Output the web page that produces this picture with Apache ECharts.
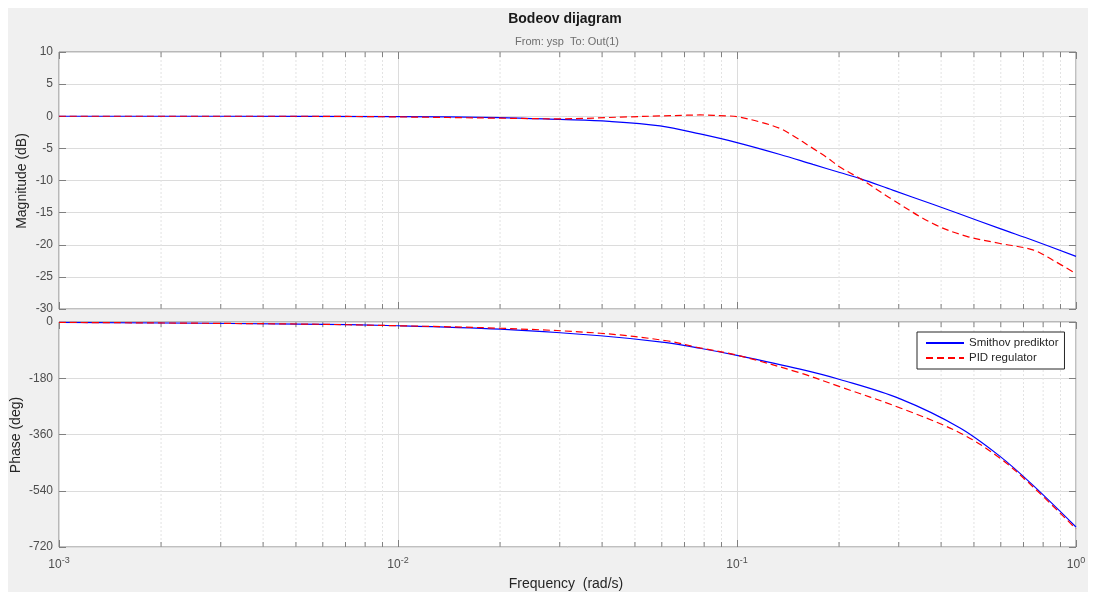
<!DOCTYPE html>
<html>
<head>
<meta charset="utf-8">
<script src="https://cdn.jsdelivr.net/npm/echarts@6/dist/echarts.min.js"></script>
<style>
html,body{margin:0;padding:0;background:#fff;}
#chart{width:1095px;height:592px;}
</style>
</head>
<body>
<div id="chart"></div>
<script>
// ---- data ----
const seriesNames = ['Smithov prediktor', 'PID regulator'];
const magTicks = [-30, -25, -20, -15, -10, -5, 0, 5, 10];
const phaseTicks = [-720, -540, -360, -180, 0];
const freqTicks = [0.001, 0.01, 0.1, 1];

const smithMagFreq = [0.001, 0.003, 0.01, 0.02, 0.0301, 0.042, 0.0593, 0.0778, 0.1, 0.134, 0.1675, 0.201, 0.2307, 0.288, 0.378, 0.448, 0.597, 0.746, 1.0];
const smithMag     = [0, 0, -0.05, -0.2, -0.5, -0.8, -1.5, -2.75, -4.1, -5.95, -7.5, -8.75, -9.7, -11.5, -13.7, -15.1, -17.5, -19.3, -21.8];

const pidMagFreq = [0.001, 0.005, 0.01, 0.02, 0.0301, 0.0474, 0.0593, 0.0712, 0.0778, 0.0933, 0.1, 0.117, 0.134, 0.146, 0.1675, 0.184, 0.201, 0.2307, 0.288, 0.378, 0.476, 0.597, 0.746, 0.855, 1.0];
const pidMag     = [0, 0, -0.1, -0.3, -0.4, -0.1, 0.05, 0.16, 0.2, 0.05, -0.05, -0.9, -1.9, -3.0, -5.0, -6.4, -7.9, -9.7, -13.0, -16.7, -18.7, -19.8, -20.8, -22.4, -24.5];

const smithPhaseFreq = [0.001, 0.00514, 0.01, 0.02, 0.0395, 0.0619, 0.0778, 0.1, 0.1535, 0.201, 0.303, 0.455, 0.597, 0.746, 1.0];
const smithPhase     = [-1.2, -6.5, -12, -23, -44, -66, -84, -107, -151, -184, -246, -339, -430, -522, -656];

const pidPhaseFreq = [0.001, 0.00514, 0.01, 0.02, 0.0395, 0.0619, 0.0778, 0.1, 0.1535, 0.201, 0.303, 0.455, 0.597, 0.746, 1.0];
const pidPhase     = [-1.2, -6.5, -12, -20, -36, -60, -83, -106, -163, -207, -275, -355, -436, -527, -662];

const minorFreqs = [];
[0.001, 0.01, 0.1].forEach(d => { for (let k = 2; k <= 9; k++) minorFreqs.push(+(d * k).toPrecision(3)); });

// ---- helpers ----
const pair = (xs, ys) => xs.map((x, i) => [x, ys[i]]);
const FONT = 'Liberation Sans, Arial, Helvetica, sans-serif';
const AXIS_COLOR = '#808080';
const LABEL_COLOR = '#4d4d4d';

const chart = echarts.init(document.getElementById('chart'), null, {renderer: 'canvas'});

function logLabel(v) {
  const e = Math.round(Math.log10(v));
  return '10{sup|' + e + '}';
}

const grids = [
  {left: 59, top: 52, width: 1017, height: 257},
  {left: 59, top: 322, width: 1017, height: 225}
];

function xAxisDef(gi, pos, showLabel) {
  return {
    type: 'log', logBase: 10, gridIndex: gi, position: pos,
    min: 0.001, max: 1,
    axisLine: {show: false, onZero: false},
    axisTick: {show: true, inside: true, length: 7, lineStyle: {color: AXIS_COLOR}},
    splitLine: {show: pos === 'bottom', lineStyle: {color: '#dcdcdc', width: 1}},
    minorTick: {show: false},
    axisLabel: showLabel ? {
      show: true, formatter: logLabel, margin: 9, color: LABEL_COLOR, fontFamily: FONT, fontSize: 12,
      rich: {sup: {fontSize: 9, color: LABEL_COLOR, fontFamily: FONT, padding: [0, 0, 9, 0]}}
    } : {show: false}
  };
}

function yAxisDef(gi, pos, min, max, interval, showLabel) {
  return {
    type: 'value', gridIndex: gi, position: pos, min: min, max: max, interval: interval,
    axisLine: {show: false, onZero: false},
    axisTick: {show: true, inside: true, length: 7, lineStyle: {color: AXIS_COLOR}},
    splitLine: {show: pos === 'left', lineStyle: {color: '#dcdcdc', width: 1}},
    axisLabel: showLabel ? {show: true, color: LABEL_COLOR, fontFamily: FONT, fontSize: 12, margin: 6} : {show: false}
  };
}

const minorSeries = (gi) => ({
  type: 'custom', xAxisIndex: gi * 2, yAxisIndex: gi * 2, silent: true, z: 1,
  data: minorFreqs.map(f => [f, 0]),
  renderItem: function (params, api) {
    const cs = params.coordSys;
    const x = api.coord([api.value(0), 0])[0];
    const top = cs.y, bot = cs.y + cs.height;
    return {
      type: 'group',
      children: [
        {type: 'line', shape: {x1: x, y1: top, x2: x, y2: bot},
         style: {stroke: '#e3e3e3', lineWidth: 1, lineDash: [2, 2]}},
        {type: 'line', shape: {x1: x, y1: bot, x2: x, y2: bot - 5},
         style: {stroke: AXIS_COLOR, lineWidth: 1}},
        {type: 'line', shape: {x1: x, y1: top, x2: x, y2: top + 5},
         style: {stroke: AXIS_COLOR, lineWidth: 1}}
      ]
    };
  }
});

const lineSeries = (name, data, gi, color, dashed) => ({
  name: name, type: 'line', xAxisIndex: gi * 2, yAxisIndex: gi * 2,
  data: data, showSymbol: false, symbol: 'none', smooth: 0.35, z: 5,
  lineStyle: {color: color, width: 1.2, type: dashed ? [7, 4] : 'solid'},
  itemStyle: {color: color}
});

const option = {
  backgroundColor: '#ffffff',
  animation: false,
  graphic: [
    {type: 'rect', shape: {x: 8, y: 8, width: 1080, height: 584}, style: {fill: '#f0f0f0'}, z: -10, silent: true},
    {type: 'text', x: 565, y: 19, style: {text: 'Bodeov dijagram', font: 'bold 14px ' + FONT, fill: '#1a1a1a', align: 'center', verticalAlign: 'middle'}},
    {type: 'text', x: 567, y: 42, style: {text: 'From: ysp  To: Out(1)', font: '11px ' + FONT, fill: '#6e6e6e', align: 'center', verticalAlign: 'middle'}},
    {type: 'text', x: 22, y: 181, rotation: Math.PI / 2, style: {text: 'Magnitude (dB)', font: '14px ' + FONT, fill: '#262626', align: 'center', verticalAlign: 'middle'}},
    {type: 'text', x: 16, y: 435, rotation: Math.PI / 2, style: {text: 'Phase (deg)', font: '14px ' + FONT, fill: '#262626', align: 'center', verticalAlign: 'middle'}},
    {type: 'text', x: 566, y: 584, style: {text: 'Frequency  (rad/s)', font: '14px ' + FONT, fill: '#262626', align: 'center', verticalAlign: 'middle'}}
  ],
  grid: grids.map(g => Object.assign({show: true, backgroundColor: '#ffffff', borderColor: AXIS_COLOR, borderWidth: 1}, g)),
  xAxis: [
    xAxisDef(0, 'bottom', false), xAxisDef(0, 'top', false),
    xAxisDef(1, 'bottom', true), xAxisDef(1, 'top', false)
  ],
  yAxis: [
    yAxisDef(0, 'left', magTicks[0], magTicks[magTicks.length - 1], 5, true),
    yAxisDef(0, 'right', magTicks[0], magTicks[magTicks.length - 1], 5, false),
    yAxisDef(1, 'left', phaseTicks[0], phaseTicks[phaseTicks.length - 1], 180, true),
    yAxisDef(1, 'right', phaseTicks[0], phaseTicks[phaseTicks.length - 1], 180, false)
  ],
  legend: {
    data: seriesNames,
    orient: 'vertical', left: 917, top: 332,
    backgroundColor: '#ffffff', borderColor: '#262626', borderWidth: 1,
    padding: [5, 6, 5, 8], itemGap: 3, itemWidth: 38, itemHeight: 10,
    itemStyle: {opacity: 0},
    textStyle: {fontFamily: FONT, fontSize: 11.5, color: '#262626'}
  },
  series: [
    minorSeries(0), minorSeries(1),
    lineSeries(seriesNames[0], pair(smithMagFreq, smithMag), 0, '#0000ff', false),
    lineSeries(seriesNames[1], pair(pidMagFreq, pidMag), 0, '#ff0000', true),
    lineSeries(seriesNames[0], pair(smithPhaseFreq, smithPhase), 1, '#0000ff', false),
    lineSeries(seriesNames[1], pair(pidPhaseFreq, pidPhase), 1, '#ff0000', true)
  ]
};
chart.setOption(option);
</script>
</body>
</html>
